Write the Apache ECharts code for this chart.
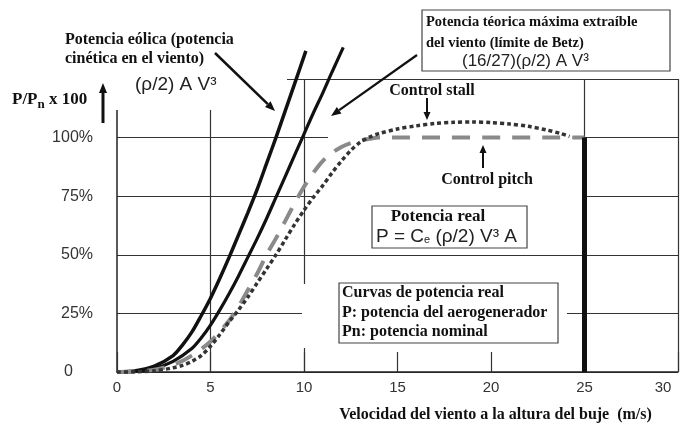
<!DOCTYPE html>
<html>
<head>
<meta charset="utf-8">
<script src="https://cdn.jsdelivr.net/npm/echarts@6/dist/echarts.min.js"></script>
<style>html,body{margin:0;padding:0;background:#fff}#c{width:680px;height:428px}</style>
</head>
<body>
<div id="c"></div>
<script>
// ---- data (wind speed m/s, power % of nominal) ----
const xTicks = [0, 5, 10, 15, 20, 25, 30];
const yTicks = [0, 25, 50, 75, 100];
const eolicaV = [0, 1, 2, 3, 3.5, 4, 4.5, 5, 5.5, 6, 6.5, 7, 7.5, 8, 8.5, 9, 9.5, 10.1];
const eolicaP = [0, 0.5, 2.5, 7, 11.5, 17, 24, 31.5, 40, 49, 58.5, 68, 78, 89, 100, 111.5, 123, 137];
const betzV = [0, 1, 2, 3, 4, 4.5, 5, 5.5, 6, 6.5, 7, 7.5, 8, 8.5, 9, 9.5, 10, 10.5, 11, 11.5, 12.1];
const betzP = [0, 0.3, 1.5, 4.5, 10, 14.5, 20, 26.5, 33.5, 41, 49, 57, 65.5, 74.5, 83.5, 92.5, 101.5, 110.5, 119, 128, 138.5];
const pitchV = [0, 1, 2, 3, 4, 5, 6, 6.5, 7, 7.5, 8, 8.5, 9, 9.5, 10, 10.5, 11, 11.5, 12, 12.5, 13, 13.5, 14, 25];
const pitchP = [0, 0.2, 1, 3, 7, 13, 22, 28, 35, 42, 50, 57, 64.5, 72, 79, 85, 90, 93.5, 96, 97.7, 98.8, 99.5, 100, 100];
const stallV = [0, 1, 2, 3, 3.5, 4, 4.5, 5, 5.5, 6, 6.5, 7, 7.5, 8, 8.5, 9, 9.5, 10, 10.5, 11, 11.5, 12, 12.5, 13, 13.5, 14, 15, 16, 17, 18, 19, 20, 21, 22, 23, 23.7, 24.2];
const stallP = [0, 0.1, 0.5, 1.8, 2.8, 4.5, 7, 11, 16, 21.5, 26.5, 32, 38, 44, 50, 56.5, 63, 69, 74.5, 79.5, 85, 90, 94.5, 98, 100.2, 101.7, 103.7, 105, 106, 106.5, 106.7, 106.4, 105.8, 104.8, 103.2, 101.8, 100.5];
const cutOutV = [25, 25];
const cutOutP = [0, 100];
const gridVerticals = [5, 10, 25, 30];

const zip = (a, b) => a.map((v, i) => [v, b[i]]);

const SERIF = '"Liberation Serif", "DejaVu Serif", serif';
const SANS = '"Liberation Sans", Arial, sans-serif';

function arrow(x1, y1, x2, y2, lw, hl, hw) {
  const dx = x2 - x1, dy = y2 - y1, L = Math.hypot(dx, dy), ux = dx / L, uy = dy / L;
  const bx = x2 - ux * hl, by = y2 - uy * hl;
  return [
    {type: 'line', z: 12, silent: true, shape: {x1: x1, y1: y1, x2: bx, y2: by}, style: {stroke: '#111', lineWidth: lw}},
    {type: 'polygon', z: 12, silent: true, shape: {points: [[x2, y2], [bx - uy * hw, by + ux * hw], [bx + uy * hw, by - ux * hw]]}, style: {fill: '#111'}}
  ];
}
function txt(x, y, text, opts) {
  return {type: 'text', z: 12, silent: true, x: x, y: y,
    style: Object.assign({text: text, fill: '#111', fontFamily: SERIF, fontWeight: 'bold', fontSize: 16, align: 'left', verticalAlign: 'middle'}, opts || {})};
}
function cover(x, y, w, h) {
  return {type: 'rect', z: 3, silent: true, shape: {x: x, y: y, width: w, height: h}, style: {fill: '#fff'}};
}
function box(x, y, w, h) {
  return {type: 'rect', z: 11, silent: true, shape: {x: x, y: y, width: w, height: h}, style: {fill: '#fff', stroke: '#444', lineWidth: 1.2}};
}

const chart = echarts.init(document.getElementById('c'), null, {renderer: 'canvas'});

const graphics = [
  cover(108, 60, 179, 50),
  cover(328, 135, 255, 6),
  cover(314, 194, 269, 6),
  cover(302, 284, 265, 64),
  // Betz box
  box(422, 10, 248, 61),
  txt(426, 22, 'Potencia téorica máxima extraíble', {fontSize: 14.5}),
  txt(426, 43, 'del viento (límite de Betz)', {fontSize: 14.5}),
  txt(462, 61, '(16/27)(ρ/2) A V³', {fontFamily: SANS, fontWeight: 'normal', fontSize: 17, fill: '#222'}),
  // Potencia eólica
  txt(65, 40, 'Potencia eólica (potencia'),
  txt(65, 59, 'cinética en el viento)'),
  txt(135, 85, '(ρ/2) A V³', {fontFamily: SANS, fontWeight: 'normal', fontSize: 19, fill: '#222'}),
  // P/Pn label
  {type: 'text', z: 12, silent: true, x: 12, y: 100, style: {
    text: '{a|P/P}{b|n}{a| x 100}', align: 'left', verticalAlign: 'middle',
    rich: {
      a: {fontFamily: SERIF, fontWeight: 'bold', fontSize: 17, fill: '#111'},
      b: {fontFamily: SERIF, fontWeight: 'bold', fontSize: 13, fill: '#111', padding: [10, 0, 0, 0]}
    }}},
  // control labels
  txt(432, 91, 'Control stall', {align: 'center'}),
  txt(487, 180, 'Control pitch', {align: 'center'}),
  // Potencia real box
  box(372, 206, 155, 42),
  txt(438, 217, 'Potencia real', {align: 'center', fontSize: 17}),
  {type: 'text', z: 12, silent: true, x: 376, y: 237, style: {
    text: '{a|P = C}{b|e}{a| (ρ/2) V³ A}', align: 'left', verticalAlign: 'middle',
    rich: {
      a: {fontFamily: SANS, fontSize: 19, fill: '#222'},
      b: {fontFamily: SANS, fontSize: 11, fill: '#222', padding: [6, 0, 0, 0]}
    }}},
  // Curvas box
  box(339, 283, 219, 60),
  txt(342, 293, 'Curvas de potencia real'),
  txt(342, 313, 'P: potencia del aerogenerador'),
  txt(342, 332, 'Pn: potencia nominal')
]
  .concat(arrow(215, 53, 275, 111, 2.5, 10, 4))
  .concat(arrow(417, 55, 331, 116, 2.2, 10, 4))
  .concat(arrow(427, 98, 427, 120, 2, 8, 3.5))
  .concat(arrow(483, 168, 483, 145, 2, 8, 3.5))
  .concat(arrow(103, 123, 103, 83, 3, 10, 4));

const lineBase = {type: 'line', showSymbol: false, symbol: 'none', clip: false, z: 5, silent: true, animation: false};

chart.setOption({
  animation: false,
  backgroundColor: '#fff',
  grid: {left: 117, right: 2, top: 79, bottom: 53, containLabel: false},
  xAxis: {
    type: 'value', min: xTicks[0], max: xTicks[xTicks.length - 1], interval: 5,
    axisLine: {show: true, lineStyle: {color: '#222', width: 1.5}},
    axisTick: {show: true, inside: true, length: 20, lineStyle: {color: '#333', width: 1.2}},
    splitLine: {show: false},
    axisLabel: {
      margin: 8, fontSize: 15, color: '#333', fontFamily: SANS,
      formatter: v => v === 30 ? '{r|30}' : (xTicks.indexOf(v) >= 0 ? String(v) : ''),
      rich: {r: {fontSize: 15, color: '#333', fontFamily: SANS, padding: [0, 30, 0, 0]}}
    },
    name: 'Velocidad del viento a la altura del buje  (m/s)',
    nameLocation: 'middle', nameGap: 35,
    nameTextStyle: {fontFamily: SERIF, fontWeight: 'bold', fontSize: 16, color: '#111', padding: [0, 0, 0, 196]}
  },
  yAxis: {
    type: 'value', min: 0, max: 125, interval: 25,
    axisLine: {show: true, lineStyle: {color: '#222', width: 1.5}},
    axisTick: {show: false},
    splitLine: {show: true, lineStyle: {color: '#333', width: 1.2}},
    axisLabel: {
      margin: 24, fontSize: 16, color: '#333', fontFamily: SANS,
      formatter: v => v === 0 ? '{z|0}' : (yTicks.indexOf(v) >= 0 ? v + '%' : ''),
      rich: {z: {fontSize: 16, color: '#333', fontFamily: SANS, padding: [0, 20, 0, 0]}}
    }
  },
  graphic: graphics,
  series: [
    Object.assign({}, lineBase, {name: 'Potencia eólica', data: zip(eolicaV, eolicaP), smooth: 0.3,
      lineStyle: {color: '#111', width: 3.5}}),
    Object.assign({}, lineBase, {name: 'Límite de Betz', data: zip(betzV, betzP), smooth: 0.3,
      lineStyle: {color: '#111', width: 3.2}}),
    Object.assign({}, lineBase, {name: 'Control pitch', data: zip(pitchV, pitchP), smooth: 0.3,
      lineStyle: {color: '#8a8a8a', width: 4, type: [18, 12]}}),
    Object.assign({}, lineBase, {name: 'Control stall', data: zip(stallV, stallP), smooth: 0.3,
      lineStyle: {color: '#333', width: 3.5, type: [4, 3]}}),
    Object.assign({}, lineBase, {name: 'Velocidad de corte', data: zip(cutOutV, cutOutP),
      lineStyle: {color: '#111', width: 5},
      markLine: {
        silent: true, z: 1, symbol: ['none', 'none'], label: {show: false},
        lineStyle: {color: '#333', width: 1.2, type: 'solid'},
        data: gridVerticals.map(v => ({xAxis: v}))
      }})
  ]
});
</script>
</body>
</html>
